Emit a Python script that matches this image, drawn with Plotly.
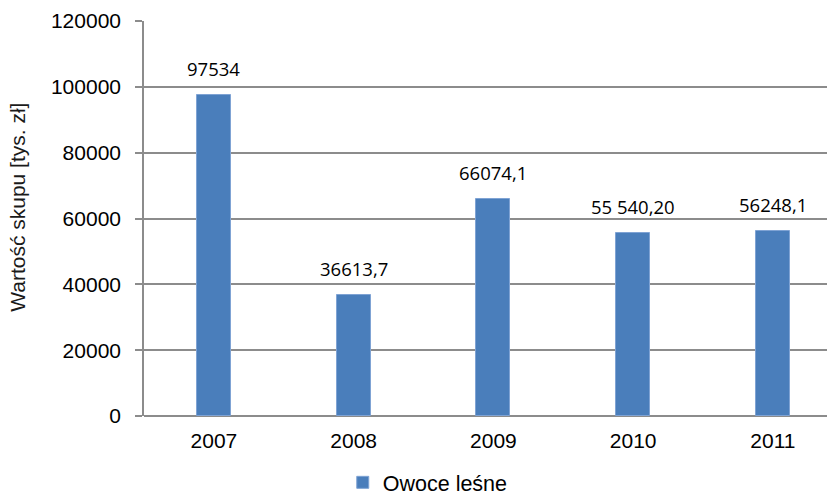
import plotly.graph_objects as go

years = ["2007", "2008", "2009", "2010", "2011"]
values = [97534, 36613.7, 66074.1, 55540.2, 56248.1]
value_labels = ["97534", "36613,7", "66074,1", "55 540,20", "56248,1"]
y_ticks = [0, 20000, 40000, 60000, 80000, 100000, 120000]

W, H = 827, 498
ml, mr, mt, mb = 144, 0, 21, 82
plot_w = W - ml - mr

fig = go.Figure()
fig.add_trace(go.Bar(
    x=years, y=values, name="Owoce leśne",
    width=0.243,
    marker=dict(color="#4A7EBB", line=dict(color="#7FA3D4", width=1)),
))

# value labels above each bar (category axis -> positional index)
for i, (v, lab) in enumerate(zip(values, value_labels)):
    fig.add_annotation(
        x=i, y=v, text=lab, showarrow=False,
        yanchor="bottom", yshift=12,
        font=dict(family="Open Sans", size=18.5, color="#000000"),
    )

# vertical axis title
fig.add_annotation(
    xref="paper", yref="paper",
    x=(18 - ml) / plot_w, y=0.527,
    text="Wartość skupu [tys. zł]", textangle=-90, showarrow=False,
    xanchor="center", yanchor="middle",
    font=dict(family="Liberation Sans", size=21, color="#1a1a1a"),
)

fig.update_layout(
    width=W, height=H,
    margin=dict(l=ml, r=mr, t=mt, b=mb, autoexpand=False),
    paper_bgcolor="white", plot_bgcolor="white",
    bargap=0,
    showlegend=True,
    legend=dict(
        orientation="h", x=0.291, y=-0.168, xanchor="left", yanchor="middle",
        font=dict(family="Liberation Sans", size=21.5, color="#000000"),
        bgcolor="rgba(0,0,0,0)", borderwidth=0,
    ),
    xaxis=dict(
        type="category", range=[-0.5, 4.387],
        showgrid=False, showline=False, ticks="",
        tickfont=dict(family="Liberation Sans", size=21, color="#000000"),
        ticklabelstandoff=10,
    ),
    yaxis=dict(
        range=[0, 120000], tickvals=y_ticks,
        ticktext=[str(t) for t in y_ticks],
        showgrid=True, gridcolor="#8C8C8C", gridwidth=1.6,
        zeroline=True, zerolinecolor="#8C8C8C", zerolinewidth=1.6,
        showline=True, linecolor="#8C8C8C", linewidth=1.6,
        ticks="outside", ticklen=7, tickcolor="#8C8C8C", tickwidth=1.6,
        tickfont=dict(family="Liberation Sans", size=21, color="#000000"),
        ticklabelstandoff=10,
    ),
)

fig.write_html("out.html")
